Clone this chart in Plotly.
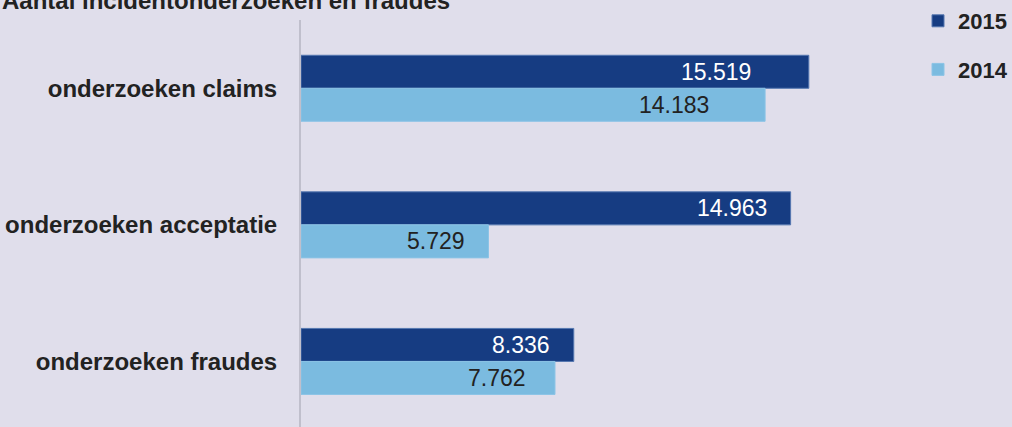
import plotly.graph_objects as go

title = "Aantal incidentonderzoeken en fraudes"
categories = ["onderzoeken claims", "onderzoeken acceptatie", "onderzoeken fraudes"]
values_2015 = [15519, 14963, 8336]
values_2014 = [14183, 5729, 7762]
labels_2015 = ["15.519", "14.963", "8.336"]
labels_2014 = ["14.183", "5.729", "7.762"]

C2015 = "#163C82"
C2014 = "#7BBBE0"
BG = "#E0DEEB"
TXT = "#222222"
FONT = "Liberation Sans, Arial, sans-serif"

# per-label right padding (px) inside bar end, as in the reference
pad_2015 = [56, 22, 22]
pad_2014 = [54, 21, 27]

W, H = 1012, 427
ML, MR, MT, MB = 301, 122, 20, 0
PW, PH = W - ML - MR, H - MT - MB

fig = go.Figure()
fig.add_trace(go.Bar(
    y=categories, x=values_2015, name="2015", orientation="h",
    marker=dict(color=C2015, line=dict(color="#5577B0", width=1)),
    legendgroup="a", hoverinfo="skip",
))
fig.add_trace(go.Bar(
    y=categories, x=values_2014, name="2014", orientation="h",
    marker=dict(color=C2014, line=dict(color="#8CC4E6", width=1)),
    legendgroup="b", hoverinfo="skip",
))

annotations = []
for cat, v, lab, p in zip(categories, values_2015, labels_2015, pad_2015):
    annotations.append(dict(x=v, y=cat, xref="x", yref="y", text=lab, showarrow=False,
                            xanchor="right", yanchor="middle", xshift=-p, yshift=16.5,
                            font=dict(family=FONT, size=23, color="white")))
for cat, v, lab, p in zip(categories, values_2014, labels_2014, pad_2014):
    annotations.append(dict(x=v, y=cat, xref="x", yref="y", text=lab, showarrow=False,
                            xanchor="right", yanchor="middle", xshift=-p, yshift=-16.5,
                            font=dict(family=FONT, size=23, color=TXT)))
annotations.append(dict(x=-ML / PW, y=(H - 0.5) / PH, xref="paper", yref="paper",
                        text="<b>" + title + "</b>",
                        showarrow=False, xanchor="left", yanchor="middle",
                        font=dict(family=FONT, size=24, color=TXT)))

fig.update_layout(
    width=W, height=H,
    margin=dict(l=ML, r=MR, t=MT, b=MB),
    paper_bgcolor=BG, plot_bgcolor=BG,
    barmode="group", bargap=0.5165, bargroupgap=0,
    font=dict(family=FONT, color=TXT),
    showlegend=True,
    legend=dict(xref="container", yref="container", x=918 / W, y=1.0 + 1 / H,
                xanchor="left", yanchor="top", tracegroupgap=17,
                font=dict(family=FONT, size=22, color=TXT, weight="bold"),
                bgcolor="rgba(0,0,0,0)"),
    annotations=annotations,
    xaxis=dict(range=[0, 18000], showgrid=False, zeroline=False, showticklabels=False,
               showline=False, fixedrange=True),
    yaxis=dict(range=[2.48, -0.5], showgrid=False, zeroline=False, showline=True,
               linecolor="#C0BFCC", linewidth=2, ticks="", ticklabelstandoff=17,
               fixedrange=True,
               tickfont=dict(family=FONT, size=24, color=TXT, weight="bold")),
)

fig.write_html("out.html", config={"displayModeBar": False, "staticPlot": True},
               post_script="document.body.style.margin='0';document.body.style.overflow='hidden';")
